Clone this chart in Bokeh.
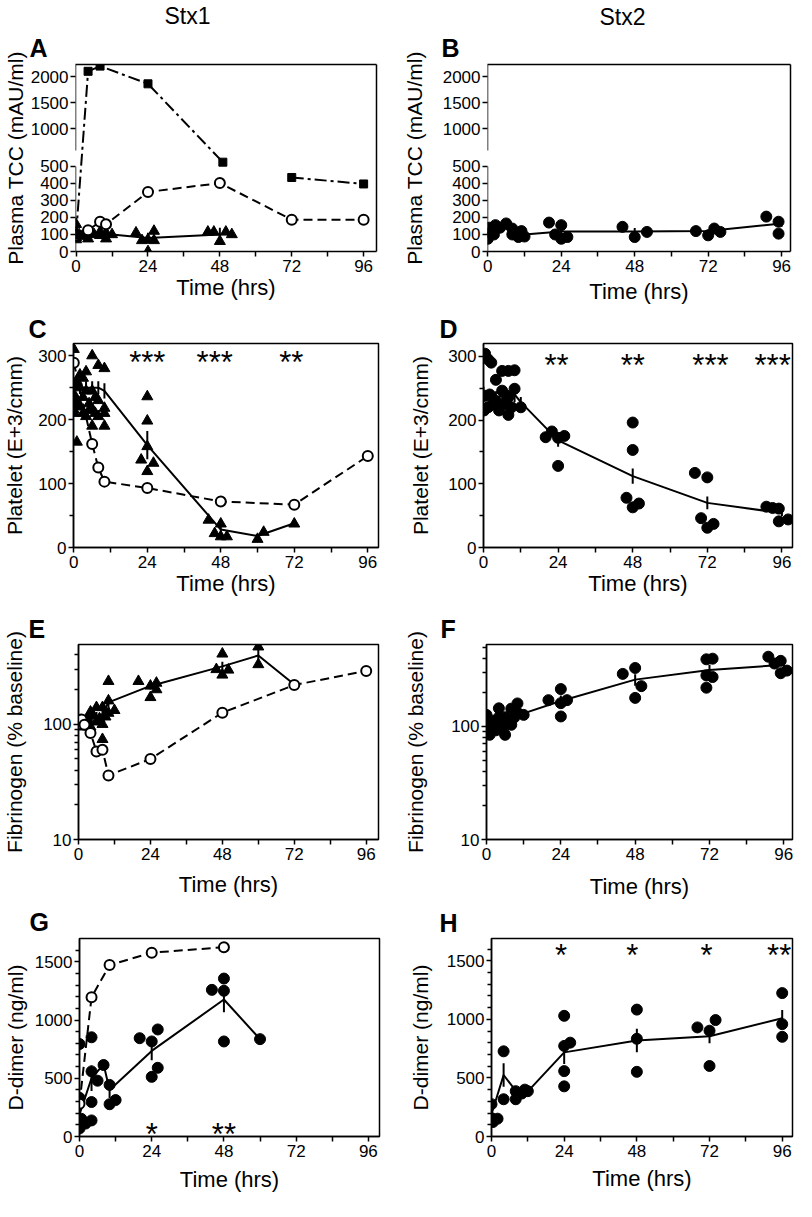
from bokeh.plotting import figure
from bokeh.layouts import column, row
from bokeh.models import (ColumnDataSource, FixedTicker, LinearAxis, Range1d, Title,
                          CustomJSTransform, CustomJSTickFormatter, PrintfTickFormatter)
from bokeh.transform import transform
from bokeh.core.properties import value
from bokeh.embed import file_html
from bokeh.resources import INLINE

FONT = "Liberation Sans"
HOURS = [0, 24, 48, 72, 96]
HOURS_MINOR = [12, 36, 60, 84]

# ---------------- A: Stx1, plasma TCC ----------------
a_sq_t = [0, 4, 8, 24, 49, 72, 96]
a_sq_v = [100, 2100, 2200, 1860, 525, 435, 397]
a_oc_t = [0, 4, 8, 10, 24, 48, 72, 96]
a_oc_v = [95, 125, 175, 160, 350, 402, 187, 187]
a_tri_t = [0, 0, 0, 0, 0, 1, 2, 4, 4, 6, 8, 8, 10, 10, 12, 20, 22, 24, 24, 26, 26, 44, 46, 48, 50, 52]
a_tri_v = [160, 110, 95, 80, 70, 100, 90, 75, 110, 100, 115, 95, 75, 110, 100, 110, 65, 70, 0, 120, 65,
           115, 115, 60, 115, 100]
a_mean_t = [0, 4, 8, 12, 24, 48]
a_mean_v = [100, 92, 105, 100, 80, 100]
a_mean_e = [15, 10, 10, 10, 30, 40]

# ---------------- B: Stx2, plasma TCC ----------------
b_pt_t = [0, 0.5, 2, 2.5, 4, 6, 8, 8, 10, 11, 12, 20, 22, 24, 24, 26, 44, 48, 52, 68, 72, 74, 76, 91, 95, 95]
b_pt_v = [75, 140, 100, 155, 140, 165, 135, 100, 85, 120, 88, 170, 100, 155, 75, 85, 145, 85, 115, 120,
          95, 135, 115, 205, 175, 105]
b_mean_t = [0, 2, 4, 8, 12, 24, 48, 72, 96]
b_mean_v = [110, 125, 150, 120, 100, 118, 118, 120, 165]
b_mean_e = [30, 20, 15, 15, 10, 25, 20, 10, 20]

# ---------------- C: Stx1, platelets ----------------
c_oc_t = [0, 6, 8, 10, 24, 48, 72, 96]
c_oc_v = [289, 162, 125, 103, 93, 72, 67, 143]
c_tri_t = [0, 0, 0, 0, 0, 0, 1, 1, 1, 2, 2, 2, 3, 3, 3, 4, 4, 4, 5, 5, 6, 6, 6, 6, 7, 7, 8, 8, 8,
           10, 10, 10, 10, 22, 24, 24, 24, 24, 26, 44, 46, 48, 48, 50, 60, 62, 72]
c_tri_v = [310, 255, 240, 225, 215, 210, 165, 260, 230, 270, 250, 220, 265, 235, 210, 275, 245, 205,
           225, 215, 300, 245, 215, 190, 210, 235, 285, 230, 205, 280, 218, 210, 190, 137, 236, 198,
           158, 119, 132, 43, 22, 37, 17, 17, 13, 24, 37]
c_mean_t = [0, 2, 4, 6, 8, 10, 24, 48, 60, 72]
c_mean_v = [248, 250, 250, 250, 250, 245, 160, 28, 18, 38]
c_mean_e = [10, 10, 10, 10, 10, 12, 22, 8, 3, 2]
c_star_t = [24, 46, 71]
c_star = ["***", "***", "**"]

# ---------------- D: Stx2, platelets ----------------
d_pt_t = [0.5, 1.5, 2.5, 4, 6, 8, 10, 0.5, 0.2, 1.5, 4, 5, 6, 8, 8, 10, 12, 3, 7, 9, 2,
          20, 22, 24, 24, 26, 46, 48, 48, 48, 50, 68, 70, 72, 72, 74, 91, 93, 95, 95, 98]
d_pt_v = [304, 295, 290, 263, 277, 277, 278, 238, 215, 220, 230, 215, 246, 236, 208, 249, 220, 225,
          225, 220, 240, 173, 182, 128, 172, 175, 78, 196, 153, 63, 69, 117, 46, 110, 31, 37, 64, 62,
          61, 41, 44]
d_mean_t = [0, 2, 4, 6, 8, 10, 12, 24, 48, 72, 96]
d_mean_v = [240, 238, 235, 238, 235, 240, 228, 168, 112, 70, 54]
d_mean_e = [12, 10, 10, 12, 12, 12, 8, 10, 12, 10, 5]
d_star_t = [23.5, 48, 73, 93]
d_star = ["**", "**", "***", "***"]

# ---------------- E: Stx1, fibrinogen ----------------
e_oc_t = [0, 1, 2, 4, 6, 8, 10, 24, 48, 72, 96]
e_oc_v = [100, 110, 99, 84, 58, 60, 36, 50, 126, 219, 290]
e_tri_t = [0, 1, 2, 3, 4, 4, 5, 6, 6, 7, 8, 8, 8, 9, 10, 10, 10, 12, 20, 24, 24, 26, 26, 46, 48, 48,
           50, 60, 60]
e_tri_v = [100, 95, 105, 112, 128, 95, 118, 140, 105, 112, 140, 74, 100, 116, 160, 236, 125, 132,
           236, 215, 171, 228, 200, 299, 408, 268, 296, 470, 330]
e_mean_t = [0, 2, 4, 6, 8, 10, 24, 48, 60, 72]
e_mean_v = [100, 102, 110, 118, 122, 155, 215, 318, 395, 221]
e_mean_e = [5, 5, 8, 10, 12, 20, 15, 30, 70, 0]

# ---------------- F: Stx2, fibrinogen ----------------
f_pt_t = [0, 0, 0, 1, 1, 2, 2, 3, 4, 4, 4, 5, 6, 6, 7, 8, 8, 9, 10, 10, 12, 20, 24, 24, 24, 26,
          44, 48, 48, 50, 71, 73, 71, 71, 73, 91, 93, 95, 95, 97]
f_pt_v = [126, 100, 90, 84, 105, 95, 112, 92, 144, 120, 100, 95, 84, 120, 110, 103, 143, 120, 159,
          132, 126, 170, 213, 122, 160, 170, 290, 327, 178, 226, 390, 395, 219, 281, 272, 411, 358,
          378, 294, 310]
f_mean_t = [0, 2, 4, 6, 8, 10, 12, 24, 48, 72, 96]
f_mean_v = [100, 104, 112, 115, 120, 128, 130, 167, 258, 314, 349]
f_mean_e = [5, 5, 8, 8, 10, 10, 10, 20, 30, 35, 25]

# ---------------- G: Stx1, D-dimer ----------------
g_oc_t = [0, 4, 10, 24, 48]
g_oc_v = [282, 1196, 1472, 1578, 1625]
g_pt_t = [0, 0, 0, 0.6, 2, 4, 4, 4, 4, 6, 8, 10, 10, 12, 20, 24, 24, 26, 26, 44, 48, 48, 48, 60]
g_pt_v = [794, 332, 69, 152, 111, 852, 559, 296, 138, 479, 614, 443, 277, 313, 844, 816, 512, 919,
          590, 1259, 1356, 1251, 816, 836]
g_mean_t = [0, 4, 8, 10, 24, 48, 60]
g_mean_v = [190, 500, 620, 400, 735, 1176, 836]
g_mean_e = [60, 110, 0, 70, 80, 110, 0]
g_star_t = [24, 48]
g_star = ["*", "**"]

# ---------------- H: Stx2, D-dimer ----------------
h_pt_t = [0, 0, 0.5, 2, 4, 4, 8, 8, 10, 11, 12, 24, 24, 24, 24, 26, 48, 48, 48, 68, 72, 72, 74,
          96, 96, 96]
h_pt_v = [157, 276, 124, 152, 727, 318, 318, 387, 367, 400, 387, 1030, 773, 558, 428, 801, 1083,
          834, 552, 931, 903, 602, 994, 1224, 959, 851]
h_mean_t = [0, 4, 8, 10, 12, 24, 48, 72, 96]
h_mean_v = [190, 525, 390, 375, 385, 718, 820, 856, 1010]
h_mean_e = [90, 100, 30, 20, 10, 100, 100, 60, 70]
h_star_t = [23, 46.5, 71, 95]
h_star = ["*", "*", "*", "**"]

# ---------------- headings ----------------
col_titles = ["Stx1", "Stx2"]
panel_letters = ["A", "B", "C", "D", "E", "F", "G", "H"]

# ---------------- segmented y axis for A/B ----------------
BRK = 600.0
RATIO = 0.306
brk_tf = CustomJSTransform(args=dict(b=BRK, r=RATIO),
    func="return x <= b ? x : b + (x - b) * r;",
    v_func="""
const out = new Float64Array(xs.length);
for (let i = 0; i < xs.length; i++) {
  const v = xs[i];
  out[i] = v <= b ? v : b + (v - b) * r;
}
return out;
""")
brk_fmt = CustomJSTickFormatter(args=dict(b=BRK, r=RATIO),
    code="const v = tick <= b ? tick : b + (tick - b) / r; return Math.round(v).toString();")


def brk(v):
    return v if v <= BRK else BRK + (v - BRK) * RATIO


W_L, W_R = 398, 396


def make_fig(w, h, borders, xr, yr, ylog=False):
    l, r, t, b = borders
    p = figure(width=w, height=h, min_border_left=l, min_border_right=r,
               min_border_top=t, min_border_bottom=b,
               x_range=Range1d(*xr), y_range=Range1d(*yr),
               y_axis_type="log" if ylog else "linear",
               toolbar_location=None, output_backend="svg", title=None)
    p.xgrid.visible = False
    p.ygrid.visible = False
    p.outline_line_color = "black"
    p.outline_line_width = 1.5
    p.background_fill_color = "white"
    p.border_fill_color = "white"
    return p


def style_axis(ax, label_size="22px", std=0, tick_out=5, minor_out=5, label_standoff=3):
    ax.axis_label_text_font = FONT
    ax.axis_label_text_font_size = label_size
    ax.axis_label_text_font_style = "normal"
    ax.axis_label_text_color = "black"
    ax.axis_label_standoff = std
    ax.major_label_text_font = FONT
    ax.major_label_text_font_size = "17px"
    ax.major_label_text_color = "black"
    ax.major_label_standoff = label_standoff
    ax.axis_line_color = "black"
    ax.axis_line_width = 1.5
    ax.major_tick_line_color = "black"
    ax.major_tick_line_width = 1.5
    ax.minor_tick_line_color = "black"
    ax.minor_tick_line_width = 1.5
    ax.major_tick_in = 0
    ax.major_tick_out = tick_out
    ax.minor_tick_in = 0
    ax.minor_tick_out = minor_out


def style_axes(p, ylabel, y_ticks, y_minor, y_std, x_std, y_fmt=None):
    xa = p.xaxis[0]
    ya = p.yaxis[0]
    xa.ticker = FixedTicker(ticks=HOURS, minor_ticks=HOURS_MINOR)
    ya.ticker = FixedTicker(ticks=y_ticks, minor_ticks=y_minor)
    if y_fmt is not None:
        ya.formatter = y_fmt
    xa.axis_label = "Time (hrs)"
    ya.axis_label = ylabel
    style_axis(xa, "22px", x_std, 5, 5, 3)
    style_axis(ya, "21px", y_std, 5, 4, 2)


def edge_axis(**kw):
    ax = LinearAxis(ticker=FixedTicker(ticks=[]), **kw)
    style_axis(ax)
    ax.major_label_text_font_size = "0px"
    ax.major_label_standoff = 0
    ax.major_tick_out = 0
    ax.minor_tick_out = 0
    ax.axis_label_standoff = 0
    return ax


def segmented_frame(p, xr, top):
    """Box whose left side is broken between 500 and the upper segment."""
    p.outline_line_color = None
    p.yaxis[0].axis_line_color = None
    for lo, hi in ((0, 500), (596, top)):
        p.add_layout(edge_axis(fixed_location=xr[0], bounds=(lo, hi)), "left")
    p.add_layout(edge_axis(), "above")
    p.add_layout(edge_axis(), "right")


def add_titles(p, letter, off, standoff, top=None):
    p.add_layout(Title(text=letter, align="left", offset=off, standoff=standoff,
                       text_font=FONT, text_font_size="25px", text_font_style="bold",
                       text_color="black"), "above")
    if top is not None:
        text, toff = top
        p.add_layout(Title(text=text, align="left", offset=toff, standoff=0, text_font=FONT,
                           text_font_size="23px", text_font_style="normal",
                           text_color="black"), "above")


def yfield(f, ytf):
    return transform(f, ytf) if ytf is not None else f


def pts(p, t, v, marker, size, filled=True, ytf=None):
    src = ColumnDataSource(dict(t=t, v=v))
    p.scatter(x="t", y=yfield("v", ytf), source=src, marker=marker, size=size,
              fill_color="black" if filled else "white", line_color="black",
              line_width=1.0 if filled else 2.0)


def line(p, t, v, dash="solid", width=2, ytf=None):
    src = ColumnDataSource(dict(t=t, v=v))
    p.line(x="t", y=yfield("v", ytf), source=src, line_color="black", line_width=width,
           line_dash=dash)


def errbars(p, t, m, e, ytf=None):
    lo = [a - b for a, b in zip(m, e)]
    hi = [a + b for a, b in zip(m, e)]
    src = ColumnDataSource(dict(t=t, lo=lo, hi=hi))
    p.segment(x0="t", y0=yfield("lo", ytf), x1="t", y1=yfield("hi", ytf), source=src,
              line_color="black", line_width=2)


def stars(p, t, s, y):
    src = ColumnDataSource(dict(t=t, y=[y] * len(t), s=s))
    p.text(x="t", y="y", text="s", source=src, text_font=value(FONT),
           text_font_size=value("31px"), text_align="center", text_baseline="middle",
           text_color="black")


DASH = "9 5"
DASHDOT = "12 4 3 4"
AB_TICKS = [0, 100, 200, 300, 400, 500, brk(1000), brk(1500), brk(2000)]
AB_TOP = brk(2231)
DOT = 11

# ---------------- row 1 ----------------
xrA = (-0.2, 100.3)
pA = make_fig(W_L, 310, (70, 22, 54, 55), xrA, (0, AB_TOP))
style_axes(pA, "Plasma TCC (mAU/ml)", AB_TICKS, [], 1, 0, brk_fmt)
segmented_frame(pA, xrA, AB_TOP)
add_titles(pA, panel_letters[0], -46, 6, (col_titles[0], 89))
line(pA, a_sq_t[:5], a_sq_v[:5], DASHDOT, ytf=brk_tf)
line(pA, a_sq_t[5:], a_sq_v[5:], DASHDOT, ytf=brk_tf)
line(pA, a_oc_t, a_oc_v, DASH, ytf=brk_tf)
line(pA, a_mean_t, a_mean_v, ytf=brk_tf)
errbars(pA, a_mean_t, a_mean_v, a_mean_e, ytf=brk_tf)
pts(pA, a_tri_t, a_tri_v, "triangle", 11, ytf=brk_tf)
pts(pA, a_oc_t, a_oc_v, "circle", 10, filled=False, ytf=brk_tf)
pts(pA, a_sq_t, a_sq_v, "square", 8, ytf=brk_tf)

xrB = (-0.1, 98.9)
pB = make_fig(W_R, 310, (89, 4, 52, 59), xrB, (0, AB_TOP))
style_axes(pB, "Plasma TCC (mAU/ml)", AB_TICKS, [], 14, 4, brk_fmt)
segmented_frame(pB, xrB, AB_TOP)
add_titles(pB, panel_letters[1], -46, 5, (col_titles[1], 112))
line(pB, b_mean_t, b_mean_v, ytf=brk_tf)
errbars(pB, b_mean_t, b_mean_v, b_mean_e, ytf=brk_tf)
pts(pB, b_pt_t, b_pt_v, "circle", DOT, ytf=brk_tf)

# ---------------- row 2 ----------------
pC = make_fig(W_L, 294, (69, 20, 33, 57), (-0.1, 99.5), (0, 319))
style_axes(pC, "Platelet (E+3/cmm)", [0, 100, 200, 300], [50, 150, 250], 9, 0)
add_titles(pC, panel_letters[2], -45, 2)
line(pC, c_oc_t, c_oc_v, DASH)
line(pC, c_mean_t, c_mean_v)
errbars(pC, c_mean_t, c_mean_v, c_mean_e)
pts(pC, c_tri_t, c_tri_v, "triangle", 11)
pts(pC, c_oc_t, c_oc_v, "circle", 10, filled=False)
stars(pC, c_star_t, c_star, 290)

pD = make_fig(W_R, 294, (85, 2, 33, 56), (0, 99.4), (0, 320))
style_axes(pD, "Platelet (E+3/cmm)", [0, 100, 200, 300], [50, 150, 250], 13, 0)
add_titles(pD, panel_letters[3], -44, 2)
line(pD, d_mean_t, d_mean_v)
errbars(pD, d_mean_t, d_mean_v, d_mean_e)
pts(pD, d_pt_t, d_pt_v, "circle", DOT)
stars(pD, d_star_t, d_star, 285)

LOG_MINOR = [20, 30, 40, 50, 60, 70, 80, 90, 200, 300, 400, 500]

# ---------------- row 3 ----------------
pE = make_fig(W_L, 298, (74, 20, 40, 60), (0, 100.1), (10, 492), ylog=True)
style_axes(pE, "Fibrinogen (% baseline)", [10, 100], LOG_MINOR, 14, 9,
           PrintfTickFormatter(format="%d"))
add_titles(pE, panel_letters[4], -50, 3)
line(pE, e_oc_t, e_oc_v, DASH)
line(pE, e_mean_t, e_mean_v)
errbars(pE, e_mean_t, e_mean_v, e_mean_e)
pts(pE, e_tri_t, e_tri_v, "triangle", 11)
pts(pE, e_oc_t, e_oc_v, "circle", 10, filled=False)

pF = make_fig(W_R, 298, (88, 2, 37, 63), (0, 98.8), (10, 527), ylog=True)
style_axes(pF, "Fibrinogen (% baseline)", [10, 100], LOG_MINOR, 21, 11,
           PrintfTickFormatter(format="%d"))
add_titles(pF, panel_letters[5], -46, 3)
line(pF, f_mean_t, f_mean_v)
errbars(pF, f_mean_t, f_mean_v, f_mean_e)
pts(pF, f_pt_t, f_pt_v, "circle", DOT)

DD_MINOR = [v for v in range(100, 1700, 100) if v % 500 != 0]

# ---------------- row 4 ----------------
pG = make_fig(W_L, 298, (74, 19, 34, 61), (0, 99.7), (0, 1700))
style_axes(pG, "D-dimer (ng/ml)", [0, 500, 1000, 1500], DD_MINOR, 5, 7)
add_titles(pG, panel_letters[6], -50, 6)
line(pG, g_oc_t, g_oc_v, DASH)
line(pG, g_mean_t, g_mean_v)
errbars(pG, g_mean_t, g_mean_v, g_mean_e)
pts(pG, g_pt_t, g_pt_v, "circle", DOT)
pts(pG, g_oc_t, g_oc_v, "circle", 10, filled=False)
stars(pG, g_star_t, g_star, 17)

pH = make_fig(W_R, 298, (93, 2, 31, 64), (0, 99.4), (0, 1690))
style_axes(pH, "D-dimer (ng/ml)", [0, 500, 1000, 1500], DD_MINOR, 12, 6)
add_titles(pH, panel_letters[7], -52, 3)
line(pH, h_mean_t, h_mean_v)
errbars(pH, h_mean_t, h_mean_v, h_mean_e)
pts(pH, h_pt_t, h_pt_v, "circle", DOT)
stars(pH, h_star_t, h_star, 1548)

layout = column(row(pA, pB), row(pC, pD), row(pE, pF), row(pG, pH))
open("out.html", "w").write(file_html(layout, INLINE, title="Stx1 / Stx2"))
